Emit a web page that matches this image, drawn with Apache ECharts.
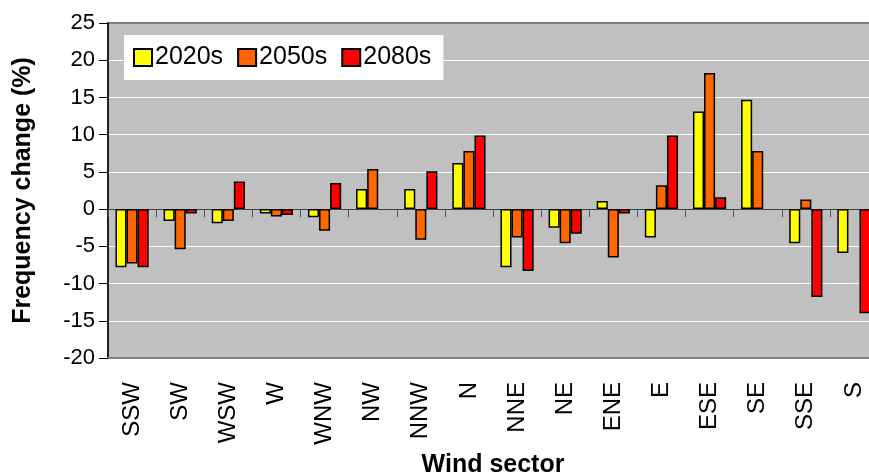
<!DOCTYPE html>
<html>
<head>
<meta charset="utf-8">
<script src="https://cdn.jsdelivr.net/npm/echarts@6/dist/echarts.min.js"></script>
<style>html,body{margin:0;padding:0;background:#fff}#c{width:869px;height:476px}</style>
</head>
<body>
<div id="c"></div>
<script>
var categories = ['SSW','SW','WSW','W','WNW','NW','NNW','N','NNE','NE','ENE','E','ESE','SE','SSE','S'];
var s2020 = [-7.8,-1.6,-1.9,-0.6,-1.1,2.7,2.7,6.2,-7.8,-2.5,1.1,-3.8,13.1,14.7,-4.6,-5.9];
var s2050 = [-7.3,-5.4,-1.6,-1.0,-2.9,5.4,-4.1,7.8,-3.8,-4.6,-6.5,3.2,18.3,7.8,1.3,null];
var s2080 = [-7.8,-0.6,3.7,-0.8,3.5,null,5.1,9.9,-8.3,-3.3,-0.6,9.9,1.6,null,-11.8,-14.0];
var seriesNames = ['2020s','2050s','2080s'];
var colors = ['#FFFF00','#FF6600','#FF0000'];
var yMin = -20, yMax = 25, yStep = 5;

var FONT = 'Liberation Sans, Arial, sans-serif';
var chart = echarts.init(document.getElementById('c'), null, {renderer:'canvas'});
function mk(name, data, color){
  return {
    name: name, type:'bar', data: data, xAxisIndex:0,
    barGap:'0%', barCategoryGap:'31%',
    itemStyle:{color:color, borderColor:'#000', borderWidth:1.5}
  };
}
chart.setOption({
  animation:false,
  textStyle:{fontFamily:FONT},
  grid:{left:108, top:23, right:-9, bottom:118, outerBoundsMode:'none', containLabel:false,
        show:true, backgroundColor:'#C0C0C0', borderColor:'#808080', borderWidth:2},
  legend:{
    left:124, top:35, backgroundColor:'#fff', padding:[10,12,10,9],
    itemWidth:18, itemHeight:17, itemGap:14, icon:'rect',
    textStyle:{fontSize:25, color:'#000', fontFamily:FONT, padding:[0,0,0,-2]},
    data: seriesNames
  },
  xAxis:[
    {type:'category', data:categories, position:'bottom',
     axisLine:{show:true, onZero:false, lineStyle:{color:'#808080', width:2}},
     axisTick:{show:false},
     axisLabel:{rotate:90, fontSize:24, color:'#000', margin:24, fontFamily:FONT, interval:0},
     name:'Wind sector', nameLocation:'middle', nameGap:92,
     nameTextStyle:{fontSize:25, fontWeight:'bold', color:'#000', fontFamily:FONT}},
    {type:'category', data:categories, position:'top',
     axisLine:{show:true, onZero:true, lineStyle:{color:'#404040', width:1}},
     axisTick:{show:true, inside:true, length:8, lineStyle:{color:'#505050', width:1}},
     axisLabel:{show:false}}
  ],
  yAxis:{
    type:'value', min:yMin, max:yMax, interval:yStep,
    axisLine:{show:true, lineStyle:{color:'#000', width:1.5}},
    axisTick:{show:true, length:9, lineStyle:{color:'#000'}},
    axisLabel:{fontSize:22, color:'#000', margin:13, fontFamily:FONT},
    splitLine:{show:true, showMinLine:false, showMaxLine:false, lineStyle:{color:'#ffffff', width:1}},
    name:'Frequency change (%)', nameLocation:'middle', nameGap:72, nameRotate:90,
    nameTextStyle:{fontSize:25, fontWeight:'bold', color:'#000', fontFamily:FONT}
  },
  series:[mk(seriesNames[0], s2020, colors[0]), mk(seriesNames[1], s2050, colors[1]), mk(seriesNames[2], s2080, colors[2])]
});
</script>
</body>
</html>
